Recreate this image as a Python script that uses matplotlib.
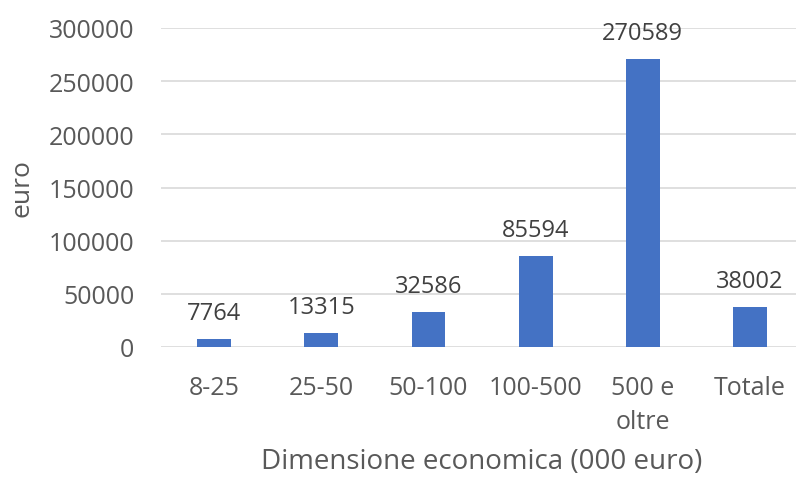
import matplotlib.pyplot as plt
import matplotlib as mpl

# data
categories = ["8-25", "25-50", "50-100", "100-500", "500 e\noltre", "Totale"]
values = [7764, 13315, 32586, 85594, 270589, 38002]
yticks = [0, 50000, 100000, 150000, 200000, 250000, 300000]

mpl.rcParams['font.family'] = ['Open Sans', 'DejaVu Sans']

bar_color = '#4472C4'
tick_color = '#595959'
label_color = '#404040'

fig = plt.figure(figsize=(7.96, 4.81), dpi=100)
ax = fig.add_axes([160.6 / 796, 133 / 481, 643 / 796, 319 / 481])

x = list(range(len(categories)))
ax.bar(x, values, width=0.315, color=bar_color, zorder=3)

for xi, v in zip(x, values):
    ax.annotate(str(v), (xi, v), xytext=(0, 10), textcoords='offset points',
                ha='center', va='bottom', fontsize=17, color=label_color)

ax.set_xlim(-0.5, len(categories) - 0.5)
ax.set_ylim(0, 300000)
ax.set_yticks(yticks)
ax.set_yticklabels([str(t) for t in yticks])
ax.set_xticks(x)
ax.set_xticklabels(categories, linespacing=1.5)

ax.grid(axis='y', color='#d9d9d9', linewidth=1.2, zorder=0)
for s in ax.spines.values():
    s.set_visible(False)
ax.tick_params(axis='both', length=0, labelsize=18, colors=tick_color)
ax.tick_params(axis='y', pad=19)
ax.tick_params(axis='x', pad=20)

ax.set_xlabel("Dimensione economica (000 euro)", fontsize=20, color=tick_color, labelpad=9)
ax.set_ylabel("euro", fontsize=19, color=tick_color, labelpad=10)

fig.savefig("out.png", dpi=100)
